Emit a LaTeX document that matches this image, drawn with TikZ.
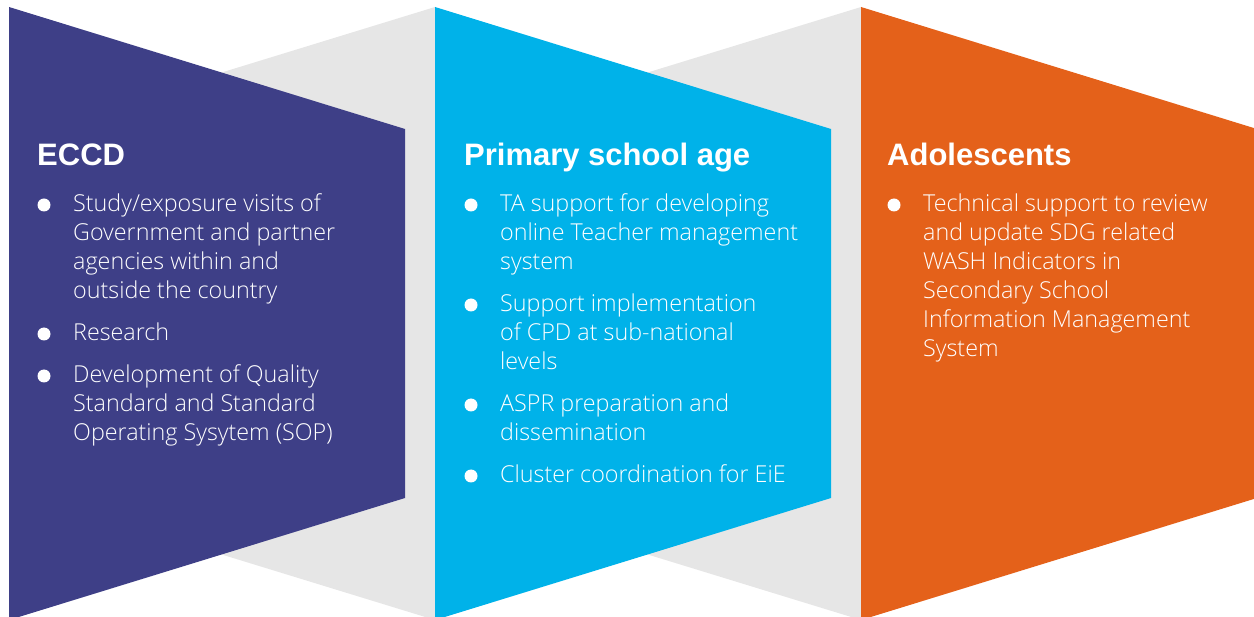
\documentclass[tikz,border=0pt]{standalone}
\usepackage{fontspec}
\setmainfont{Liberation Sans}
\newfontfamily\bodyfont{Open Sans Light}
\usepackage{tikz}
\usetikzlibrary{positioning}

\definecolor{eccdcol}{HTML}{3E3F87}
\definecolor{primcol}{HTML}{00B2E9}
\definecolor{adolcol}{HTML}{E4611A}
\definecolor{foldcol}{HTML}{E6E6E6}

\begin{document}
\begin{tikzpicture}[x=1pt, y=-1pt,
    head/.style = {anchor=base west, inner sep=0pt, text=white, font=\fontsize{31}{36}\selectfont\bfseries},
    item/.style = {anchor=base west, inner sep=0pt, text=white, align=left, font=\bodyfont\fontsize{23.3}{29}\selectfont},
    bullet/.style = {circle, fill=white, inner sep=0pt, minimum size=13pt}]
  \useasboundingbox (0,0) rectangle (1254,617);
  \clip (0,0) rectangle (1254,617);

  % folds behind the panels
  \fill[foldcol] (150,94.5) -- (435,7) -- (435,620) -- (150,532.5) -- cycle;
  \fill[foldcol] (576,94.5) -- (861,7) -- (861,620) -- (576,532.5) -- cycle;

  % panels
  \fill[eccdcol] (9,7) -- (405,129) -- (405,498) -- (9,620) -- cycle;
  \fill[primcol] (435,7) -- (831,129) -- (831,498) -- (435,620) -- cycle;
  \fill[adolcol] (861,7) -- (1257,129) -- (1257,498) -- (861,620) -- cycle;

  % ECCD (items sit on the baseline of their last line)
  \node[head] (eccd) at (37,166) {ECCD};
  \node[item] (eccd1) at (73,299) {Study/exposure visits of\\Government and partner\\agencies within and\\outside the country};
  \node[item] (eccd2) at (73,341) {Research};
  \node[item] (eccd3) at (73,441) {Development of Quality\\Standard and Standard\\Operating Sysytem (SOP)};
  \node[bullet] (b1) at (44,205) {};
  \node[bullet] (b2) at (44,334) {};
  \node[bullet] (b3) at (44,376) {};

  % Primary school age
  \node[head] (prim) at (464,166) {Primary school age};
  \node[item] (prim1) at (500,270) {TA support for developing\\online Teacher management\\system};
  \node[item] (prim2) at (500,370) {Support implementation\\of CPD at sub-national\\levels};
  \node[item] (prim3) at (500,441) {ASPR preparation and\\dissemination};
  \node[item] (prim4) at (500,483) {Cluster coordination for EiE};
  \node[bullet] (b4) at (471,205) {};
  \node[bullet] (b5) at (471,305) {};
  \node[bullet] (b6) at (471,405) {};
  \node[bullet] (b7) at (471,476) {};

  % Adolescents
  \node[head] (adol) at (887,166) {Adolescents};
  \node[item] (adol1) at (923,357) {Technical support to review\\and update SDG related\\WASH Indicators in\\Secondary School\\Information Management\\System};
  \node[bullet] (b8) at (894,205) {};
\end{tikzpicture}
\end{document}
